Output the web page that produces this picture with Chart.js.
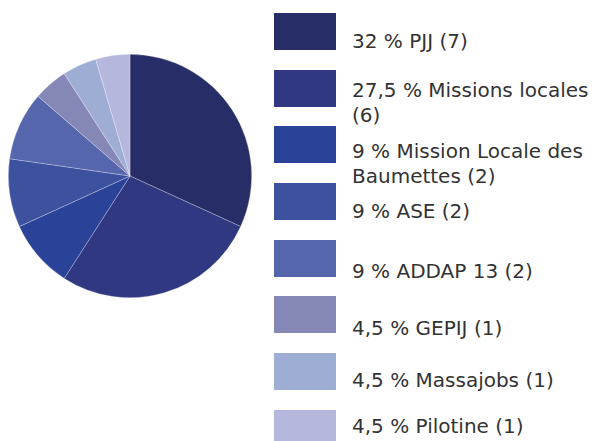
<!DOCTYPE html>
<html>
<head>
<meta charset="utf-8">
<script src="https://cdn.jsdelivr.net/npm/chart.js@4/dist/chart.umd.min.js"></script>
<style>
  html, body { margin: 0; padding: 0; background: #fff; }
  body { width: 594px; height: 441px; position: relative; overflow: hidden; }
  #pieWrap { position: absolute; left: 8px; top: 54px; width: 244px; height: 244px; }
  .box { position: absolute; left: 274px; width: 62px; height: 37px; }
  .txt {
    position: absolute; left: 352px; width: 242px;
    font-family: "DejaVu Sans", Verdana, sans-serif; font-size: 20px; line-height: 24.5px;
    color: #333;
  }
</style>
</head>
<body>
<div id="pieWrap"><canvas id="pie"></canvas></div>
<div id="legend"></div>
<script>
// Données : répartition des orientations
const labels = ['PJJ', 'Missions locales', 'Mission Locale des Baumettes', 'ASE', 'ADDAP 13', 'GEPIJ', 'Massajobs', 'Pilotine'];
const counts = [7, 6, 2, 2, 2, 1, 1, 1];
const percents = ['32', '27,5', '9', '9', '9', '4,5', '4,5', '4,5'];
const colors = ['#272d66', '#2f3881', '#2a4398', '#3d529f', '#5566ad', '#8588b7', '#9eadd4', '#b5b8dc'];

// Mise en page de la légende (haut des carrés et du texte, en px)
const boxTops = [13, 70, 126, 183, 240, 296, 353, 410];
const textTops = [29, 78, 139, 199, 259, 316, 368, 414];

const legend = document.getElementById('legend');
labels.forEach((label, i) => {
    const box = document.createElement('div');
    box.className = 'box';
    box.style.top = boxTops[i] + 'px';
    box.style.background = colors[i];
    legend.appendChild(box);

    const txt = document.createElement('div');
    txt.className = 'txt';
    txt.style.top = textTops[i] + 'px';
    txt.textContent = `${percents[i]} % ${label} (${counts[i]})`;
    legend.appendChild(txt);
});

new Chart(document.getElementById('pie'), {
    type: 'pie',
    data: {
        labels,
        datasets: [{
            data: counts,
            backgroundColor: colors,
            borderColor: 'rgba(255,255,255,0.45)',
            borderWidth: 0.6
        }]
    },
    options: {
        responsive: true,
        maintainAspectRatio: false,
        animation: false,
        layout: { padding: 0 },
        plugins: {
            legend: { display: false },
            tooltip: { enabled: false }
        }
    }
});
</script>
</body>
</html>
